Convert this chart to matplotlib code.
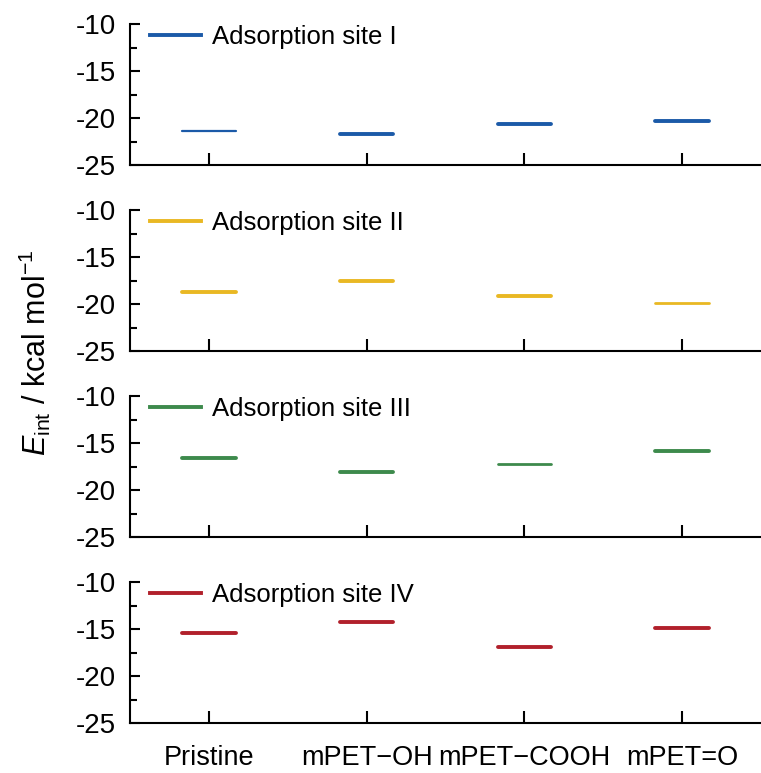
import numpy as np
import matplotlib
matplotlib.use('Agg')
import matplotlib.pyplot as plt
from matplotlib.ticker import MultipleLocator

plt.rcParams['font.family'] = ['Liberation Sans', 'DejaVu Sans']
plt.rcParams['mathtext.fontset'] = 'custom'
plt.rcParams['mathtext.rm'] = 'Liberation Sans'
plt.rcParams['mathtext.it'] = 'Liberation Sans:italic'
plt.rcParams['axes.unicode_minus'] = False

# data
categories = ['Pristine', 'mPET\u2212OH', 'mPET\u2212COOH', 'mPET=O']
site_labels = ['Adsorption site I', 'Adsorption site II',
               'Adsorption site III', 'Adsorption site IV']
site_I = [-21.4, -21.7, -20.6, -20.3]
site_II = [-18.7, -17.6, -19.2, -19.9]
site_III = [-16.6, -18.1, -17.2, -15.9]
site_IV = [-15.4, -14.3, -16.9, -14.9]
yticks = [-25, -20, -15, -10]

sites = [site_I, site_II, site_III, site_IV]
colors = ['#1b5aa8', '#e9b823', '#3d8a4c', '#b1202b']
# line widths per level (some drawn thinner in the original)
widths = [[1.6, 2.8, 2.8, 2.8],
          [2.8, 2.8, 2.8, 2.0],
          [2.8, 2.8, 2.0, 2.8],
          [2.8, 2.8, 2.8, 2.8]]

W, H = 761, 773
fig = plt.figure(figsize=(W / 100, H / 100), dpi=100)

x = np.arange(1, len(categories) + 1)
half = 0.17
left = 130 / W
for k in range(4):
    top_px = 24 + 186 * k
    bot_px = 165 + 186 * k
    ax = fig.add_axes([left, 1 - bot_px / H, 1 - left, (bot_px - top_px) / H])
    vals = sites[k]
    for i in range(len(x)):
        ax.plot([x[i] - half, x[i] + half], [vals[i], vals[i]],
                color=colors[k], lw=widths[k][i], solid_capstyle='round')
    ax.plot([], [], color=colors[k], lw=2.8, label=site_labels[k])
    ax.set_xlim(0.5, 4.5)
    ax.set_ylim(-25, -10)
    ax.set_yticks(yticks)
    ax.yaxis.set_minor_locator(MultipleLocator(2.5))
    ax.set_xticks(x)
    if k == 3:
        ax.set_xticklabels(categories)
    else:
        ax.set_xticklabels([])
    for s in ['top', 'right']:
        ax.spines[s].set_visible(False)
    for s in ['left', 'bottom']:
        ax.spines[s].set_linewidth(1.5)
    ax.tick_params(axis='y', which='major', direction='in', length=7,
                   width=1.5, labelsize=20, pad=10)
    ax.tick_params(axis='y', which='minor', direction='in', length=5,
                   width=1.5)
    ax.tick_params(axis='x', which='major', direction='in', length=9,
                   width=1.5, labelsize=19.5, pad=16)
    ax.legend(loc='upper left', bbox_to_anchor=(20 / 631, 0.99),
              frameon=False, fontsize=18.5, handlelength=2.0,
              handletextpad=0.4, borderpad=0, borderaxespad=0)

fig.text(35 / W, 1 - 353 / H, r'$\it{E}_{\rm int}$ / kcal mol$^{-1}$',
         rotation=90, ha='center', va='center', fontsize=22)

fig.savefig('out.png', dpi=100)
